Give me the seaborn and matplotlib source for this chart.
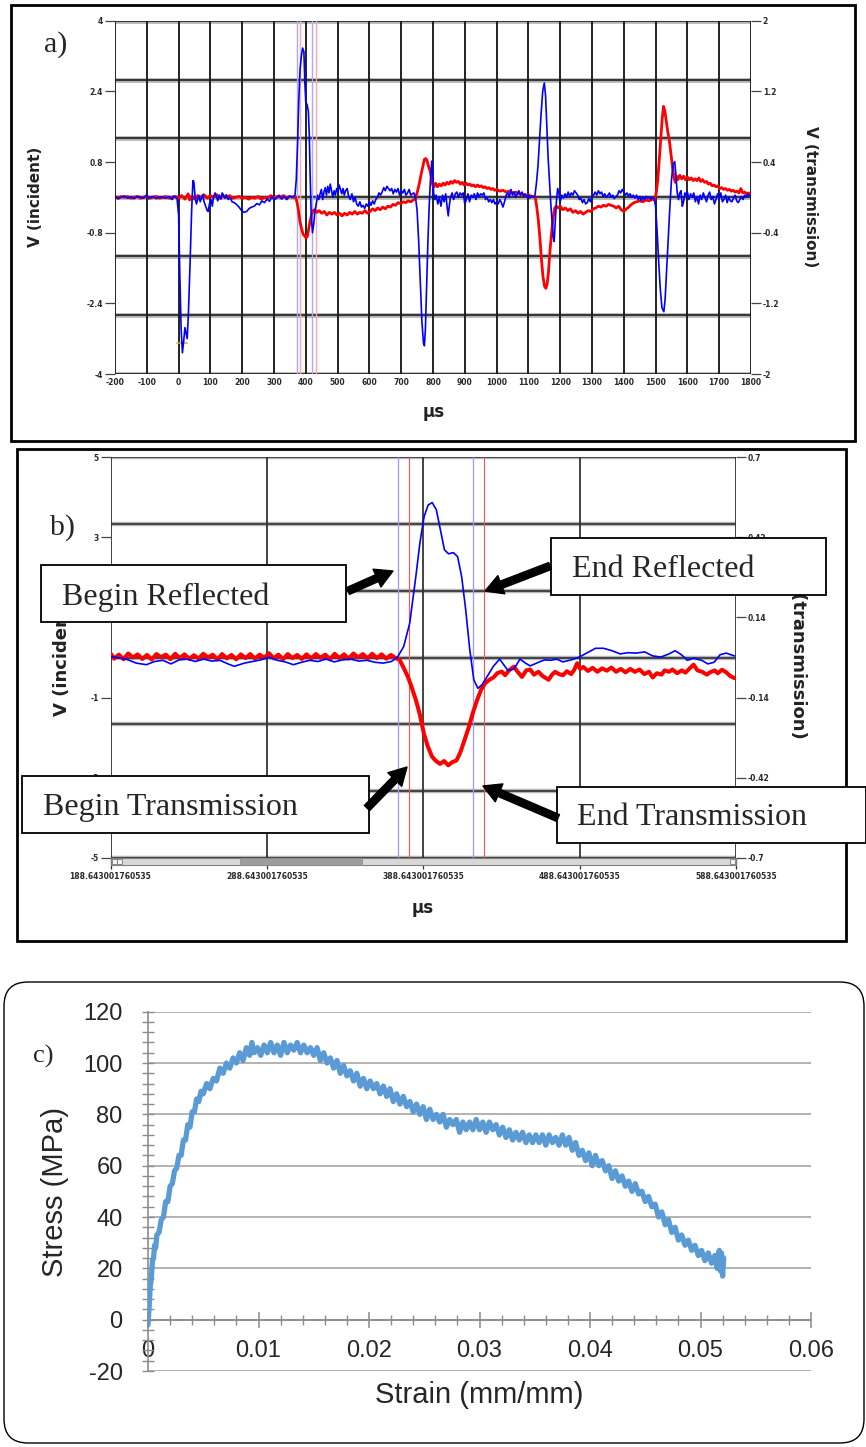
import numpy as np
import matplotlib
matplotlib.use("Agg")
import matplotlib.pyplot as plt
import seaborn as sns
from matplotlib.patches import Rectangle, FancyBboxPatch, FancyArrowPatch
from matplotlib.transforms import IdentityTransform

# ---------------- a) full record: incident bar (V) and transmission bar (V) ----------------
a_incident = [
    (-200, 0.02), (-190, -0.03), (-180, 0.0), (-170, 0.03), (-160, -0.02), (-150, 0.01), (-140, -0.03),
    (-130, 0.02), (-120, 0.0), (-110, -0.02), (-100, 0.06), (-95, -0.03), (-90, 0.0), (-80, 0.02),
    (-70, -0.03), (-60, 0.01), (-50, 0.0), (-40, -0.02), (-30, 0.02), (-20, -0.05), (-15, 0.03),
    (-10, 0.0), (-5, -0.02),
    (0, -0.4), (4, -1.8), (8, -3.0), (12, -3.52), (16, -3.25), (20, -2.95), (24, -3.1), (27, -3.2),
    (31, -2.6), (36, -1.5), (41, -0.3), (45, 0.38), (48, 0.35), (52, 0.0), (56, -0.15), (60, -0.05),
    (64, 0.04), (68, -0.1), (72, -0.02), (76, 0.06), (80, -0.1), (85, -0.2), (90, -0.3), (93, -0.32),
    (97, -0.15), (102, -0.05), (106, -0.2), (110, 0.02), (115, 0.1), (119, 0.02), (123, -0.08),
    (128, 0.05), (133, -0.04), (137, 0.1), (142, 0.04), (146, -0.02), (150, 0.06), (156, -0.05),
    (162, 0.0), (168, -0.1), (175, -0.12), (182, -0.16), (190, -0.22), (198, -0.3), (206, -0.34),
    (214, -0.32), (222, -0.25), (230, -0.22), (238, -0.2), (246, -0.14), (254, -0.17), (262, -0.08),
    (270, -0.12), (278, -0.04), (286, -0.09), (294, 0.02), (300, -0.06), (308, -0.02), (316, 0.05),
    (324, -0.04), (332, 0.02), (340, -0.05), (348, 0.03), (356, 0.0), (362, 0.02), (366, 0.05),
    (370, 0.4), (374, 1.2), (378, 2.2), (382, 2.9), (386, 3.2), (390, 3.38), (394, 3.3), (397, 2.6),
    (400, 2.15), (404, 2.1), (408, 1.95), (411, 1.4), (414, 0.4), (417, -0.4), (421, -0.8),
    (425, -0.6), (429, -0.3), (433, -0.15), (437, 0.05), (441, -0.05), (445, 0.08), (449, 0.18),
    (453, -0.05), (457, 0.12), (461, 0.22), (465, 0.05), (469, 0.25), (473, 0.1), (477, 0.3),
    (481, 0.15), (485, 0.0), (489, 0.15), (493, 0.05), (497, 0.2), (501, 0.12), (505, 0.28),
    (509, 0.18), (513, 0.08), (517, 0.2), (521, 0.05), (525, 0.15), (530, 0.2), (535, 0.02),
    (540, -0.05), (545, 0.08), (550, -0.1), (555, 0.0), (560, -0.15), (565, -0.2), (570, -0.1),
    (575, -0.22), (580, -0.18), (585, -0.25), (590, -0.15), (595, -0.2), (600, -0.1), (605, -0.18),
    (610, -0.08), (615, -0.15), (620, -0.05), (625, 0.0), (630, 0.1), (635, 0.05), (640, 0.12),
    (645, 0.22), (650, 0.15), (655, 0.25), (660, 0.2), (665, 0.15), (670, 0.2), (675, 0.08),
    (680, 0.18), (685, 0.12), (690, 0.2), (695, 0.05), (700, 0.15), (705, 0.1), (710, 0.18),
    (715, 0.05), (720, 0.1), (725, 0.18), (730, 0.05), (735, 0.08), (740, 0.1), (745, 0.0),
    (750, -0.3), (755, -1.0), (760, -1.9), (765, -2.8), (770, -3.3), (773, -3.36), (776, -3.0),
    (780, -2.0), (784, -1.0), (788, -0.2), (792, 0.4), (796, 0.82), (799, 0.6), (802, 0.1),
    (806, -0.05), (810, 0.05), (815, -0.15), (820, 0.0), (825, -0.2), (830, 0.05), (835, -0.1),
    (840, 0.08), (845, -0.25), (848, -0.42), (851, -0.2), (855, 0.0), (860, 0.1), (865, -0.05),
    (870, 0.08), (875, 0.12), (880, 0.0), (885, 0.1), (890, 0.05), (895, 0.1), (900, -0.15),
    (905, -0.05), (910, 0.08), (915, -0.1), (920, 0.05), (925, 0.0), (930, 0.08), (935, -0.05),
    (940, 0.1), (945, 0.02), (950, 0.08), (955, 0.05), (960, 0.1), (965, -0.05), (970, 0.0),
    (975, -0.1), (980, -0.05), (985, -0.12), (990, -0.05), (995, -0.15), (1000, -0.1), (1005, -0.15),
    (1010, -0.05), (1015, -0.12), (1020, -0.22), (1025, -0.1), (1030, 0.05), (1035, 0.1), (1040, 0.0),
    (1045, 0.18), (1050, 0.05), (1055, 0.12), (1060, 0.0), (1065, 0.08), (1070, 0.15), (1075, 0.05),
    (1080, 0.12), (1085, 0.02), (1090, 0.08), (1095, 0.0), (1100, 0.05), (1105, -0.02), (1110, 0.03),
    (1115, 0.0), (1120, 0.02),
    (1125, 0.3), (1130, 0.7), (1135, 1.3), (1140, 1.9), (1145, 2.4), (1150, 2.59), (1154, 2.3),
    (1158, 1.6), (1162, 0.9), (1166, 0.4), (1170, -0.1), (1174, -0.5), (1178, -0.9), (1181, -1.0),
    (1184, -0.6), (1188, -0.1), (1192, 0.2), (1196, 0.1), (1200, -0.1), (1205, 0.05), (1210, -0.02),
    (1215, 0.08), (1220, 0.0), (1225, 0.12), (1230, 0.02), (1235, 0.1), (1240, 0.05), (1245, 0.15),
    (1250, 0.1), (1255, 0.05), (1260, -0.05), (1265, -0.02), (1270, -0.12), (1275, -0.05),
    (1280, -0.15), (1285, -0.12), (1290, -0.03), (1295, -0.1), (1300, 0.02), (1305, 0.05),
    (1310, 0.12), (1315, 0.05), (1320, 0.15), (1325, 0.08), (1330, 0.12), (1335, 0.02), (1340, 0.08),
    (1345, 0.0), (1350, 0.05), (1355, 0.1), (1360, 0.0), (1365, 0.05), (1370, -0.03), (1375, 0.02),
    (1380, 0.05), (1385, 0.15), (1390, 0.1), (1395, 0.18), (1400, 0.12), (1405, 0.05), (1410, 0.1),
    (1415, 0.03), (1420, 0.08), (1425, 0.0), (1430, 0.05), (1435, -0.02), (1440, 0.05), (1445, -0.05),
    (1450, 0.02), (1455, -0.08), (1460, 0.0), (1465, -0.05), (1470, 0.02), (1475, -0.02), (1480, 0.0),
    (1485, -0.05), (1490, 0.0), (1495, -0.02),
    (1500, -0.2), (1505, -0.8), (1510, -1.5), (1515, -2.1), (1520, -2.5), (1526, -2.59), (1530, -2.3),
    (1535, -1.6), (1540, -0.9), (1545, -0.2), (1550, 0.4), (1555, 0.75), (1560, 0.81), (1564, 0.5),
    (1568, 0.1), (1572, -0.05), (1576, 0.1), (1580, 0.15), (1584, -0.2), (1588, -0.1), (1592, 0.1),
    (1596, 0.05), (1600, 0.12), (1605, -0.05), (1610, 0.08), (1615, 0.0), (1620, 0.1), (1625, -0.1),
    (1630, 0.02), (1635, -0.15), (1640, 0.05), (1645, -0.05), (1650, 0.1), (1655, 0.0), (1660, -0.1),
    (1665, 0.05), (1670, 0.12), (1675, -0.05), (1680, 0.02), (1685, -0.15), (1690, -0.05),
    (1695, 0.08), (1700, -0.02), (1705, 0.1), (1710, -0.1), (1715, -0.05), (1720, 0.05),
    (1725, -0.12), (1730, 0.0), (1735, -0.08), (1740, -0.1), (1745, -0.02), (1750, 0.05),
    (1755, -0.08), (1760, -0.12), (1765, -0.05), (1770, 0.02), (1775, -0.05), (1780, 0.05),
    (1785, 0.0), (1790, 0.08), (1795, 0.03), (1800, 0.05),
]

a_transmission = [
    (-200, 0.01), (-190, -0.01), (-180, 0.01), (-170, 0.0), (-160, 0.01), (-150, -0.01), (-140, 0.0),
    (-130, 0.01), (-120, -0.01), (-110, 0.0), (-100, 0.01), (-90, -0.01), (-80, 0.0), (-70, 0.01),
    (-60, -0.01), (-50, 0.0), (-40, 0.01), (-30, -0.01), (-20, 0.0), (-10, 0.01), (0, -0.01),
    (10, 0.02), (20, -0.02), (30, 0.04), (35, -0.03), (40, 0.01), (50, -0.02), (60, 0.02), (70, 0.0),
    (80, 0.03), (90, -0.01), (100, 0.02), (110, 0.0), (120, 0.03), (130, -0.01), (140, 0.01),
    (150, 0.0), (160, 0.02), (170, -0.01), (180, 0.0), (190, 0.01), (200, -0.01), (210, 0.0),
    (220, -0.02), (230, 0.0), (240, -0.01), (250, 0.01), (260, -0.02), (270, 0.0), (280, -0.01),
    (290, 0.02), (300, -0.01), (310, 0.01), (320, 0.0), (330, 0.02), (340, -0.01), (350, 0.01),
    (360, 0.0), (368, 0.0),
    (372, -0.05), (377, -0.15), (382, -0.28), (387, -0.36), (392, -0.42), (397, -0.44), (401, -0.46),
    (405, -0.44), (409, -0.36), (413, -0.28), (418, -0.2), (423, -0.15), (428, -0.14), (435, -0.17),
    (442, -0.15), (450, -0.18), (458, -0.16), (466, -0.2), (474, -0.17), (482, -0.19), (490, -0.17),
    (498, -0.2), (506, -0.18), (514, -0.21), (522, -0.18), (530, -0.2), (538, -0.17), (546, -0.19),
    (554, -0.16), (562, -0.19), (570, -0.17), (578, -0.18), (586, -0.15), (594, -0.18), (602, -0.16),
    (610, -0.13), (618, -0.15), (626, -0.12), (634, -0.14), (642, -0.11), (650, -0.13), (658, -0.1),
    (666, -0.11), (674, -0.08), (682, -0.09), (690, -0.06), (698, -0.07), (706, -0.05), (714, -0.06),
    (722, -0.04), (730, -0.05), (738, -0.03), (744, -0.02),
    (750, 0.05), (756, 0.14), (762, 0.25), (768, 0.35), (773, 0.43), (777, 0.44), (781, 0.42),
    (786, 0.35), (791, 0.3), (795, 0.22), (799, 0.14), (803, 0.12), (808, 0.16), (814, 0.12),
    (820, 0.15), (826, 0.13), (832, 0.16), (838, 0.14), (844, 0.17), (850, 0.15), (856, 0.18),
    (862, 0.16), (868, 0.19), (874, 0.17), (880, 0.18), (886, 0.15), (892, 0.17), (898, 0.14),
    (904, 0.16), (910, 0.14), (916, 0.15), (922, 0.13), (928, 0.14), (934, 0.12), (940, 0.14),
    (946, 0.12), (952, 0.13), (958, 0.11), (964, 0.12), (970, 0.1), (976, 0.11), (982, 0.09),
    (988, 0.1), (994, 0.08), (1000, 0.09), (1010, 0.07), (1020, 0.08), (1030, 0.06), (1040, 0.07),
    (1050, 0.05), (1060, 0.06), (1070, 0.04), (1080, 0.04), (1090, 0.02), (1100, 0.03), (1110, 0.01),
    (1118, 0.01), (1122, -0.01),
    (1126, -0.1), (1131, -0.25), (1136, -0.45), (1141, -0.7), (1146, -0.9), (1151, -1.01),
    (1155, -1.03), (1159, -0.98), (1163, -0.85), (1168, -0.6), (1173, -0.4), (1178, -0.22),
    (1183, -0.12), (1188, -0.1), (1194, -0.12), (1200, -0.1), (1208, -0.14), (1216, -0.12),
    (1224, -0.15), (1232, -0.13), (1240, -0.17), (1248, -0.15), (1256, -0.18), (1264, -0.16),
    (1272, -0.19), (1280, -0.17), (1288, -0.15), (1296, -0.16), (1304, -0.13), (1312, -0.12),
    (1320, -0.1), (1328, -0.11), (1336, -0.09), (1344, -0.1), (1352, -0.08), (1360, -0.09),
    (1368, -0.1), (1376, -0.12), (1384, -0.1), (1392, -0.14), (1400, -0.16), (1408, -0.13),
    (1416, -0.11), (1424, -0.08), (1432, -0.06), (1440, -0.05), (1450, -0.04), (1460, -0.05),
    (1470, -0.03), (1480, -0.04), (1490, -0.02), (1497, -0.03),
    (1502, 0.05), (1507, 0.2), (1512, 0.45), (1517, 0.7), (1521, 0.9), (1525, 1.03), (1529, 0.98),
    (1533, 0.88), (1538, 0.75), (1543, 0.65), (1548, 0.5), (1553, 0.35), (1558, 0.22), (1562, 0.17),
    (1566, 0.24), (1570, 0.2), (1576, 0.25), (1582, 0.21), (1588, 0.24), (1594, 0.2), (1600, 0.23),
    (1606, 0.2), (1612, 0.22), (1618, 0.19), (1624, 0.21), (1630, 0.19), (1636, 0.22), (1642, 0.18),
    (1648, 0.2), (1654, 0.17), (1660, 0.18), (1666, 0.15), (1672, 0.16), (1678, 0.13), (1684, 0.14),
    (1690, 0.12), (1696, 0.13), (1702, 0.1), (1708, 0.11), (1714, 0.09), (1720, 0.1), (1726, 0.08),
    (1732, 0.09), (1738, 0.07), (1744, 0.08), (1750, 0.06), (1756, 0.07), (1762, 0.05), (1768, 0.1),
    (1774, 0.05), (1780, 0.06), (1786, 0.04), (1792, 0.05), (1800, 0.03),
]

# small cursor mark near the first incident minimum
a_cursor = [(-6, -3.29), (27, -3.29)]

a_x_ticks = list(range(-200, 1801, 100))
a_left_ticks = [4, 2.4, 0.8, -0.8, -2.4, -4]
a_left_labels = ["4", "2.4", "0.8", "-0.8", "-2.4", "-4"]
a_right_ticks = [2, 1.2, 0.4, -0.4, -1.2, -2]
a_right_labels = ["2", "1.2", "0.4", "-0.4", "-1.2", "-2"]
a_window_reflected = [371, 420]
a_window_transmitted = [383, 433]

# ---------------- b) zoom on the pulse window ----------------
b_incident = [
    (189.4, 0.02), (198.6, -0.04), (205.1, -0.14), (211.6, -0.18), (216.8, -0.1), (222.1, -0.07),
    (227.3, -0.16), (232.5, -0.06), (237.7, -0.04), (242.9, -0.1), (248.2, -0.04), (253.4, -0.09),
    (258.6, -0.07), (263.8, -0.16), (267.8, -0.22), (274.3, -0.14), (279.5, -0.1), (284.7, -0.06),
    (290.0, 0.01), (295.2, -0.07), (300.4, -0.11), (305.6, -0.18), (310.8, -0.12), (316.1, -0.07),
    (321.3, -0.1), (326.5, -0.04), (331.7, -0.11), (337.0, -0.06), (342.2, -0.04), (347.4, -0.09),
    (352.6, -0.07), (357.8, -0.12), (363.1, -0.14), (368.3, -0.1), (372.2, 0.01), (376.1, 0.27),
    (380.0, 0.86), (383.9, 2.02), (386.5, 2.86), (389.2, 3.52), (391.8, 3.81), (394.4, 3.87),
    (397.0, 3.69), (399.6, 3.19), (402.2, 2.69), (404.8, 2.59), (407.9, 2.62), (410.6, 2.52),
    (413.2, 2.02), (415.8, 1.19), (418.4, 0.19), (421.0, -0.56), (423.6, -0.77), (426.2, -0.68),
    (429.6, -0.47), (433.5, -0.22), (437.5, -0.04), (440.1, -0.18), (442.7, -0.32), (446.6, -0.29),
    (450.5, -0.04), (454.0, -0.14), (457.0, -0.21), (462.3, -0.12), (466.2, -0.06), (470.1, -0.07),
    (474.0, -0.04), (477.9, -0.11), (483.2, -0.06), (488.4, 0.01), (493.6, 0.12), (498.8, 0.23),
    (504.0, 0.23), (509.3, 0.17), (514.5, 0.09), (519.7, 0.12), (524.9, 0.11), (530.2, 0.14),
    (535.4, 0.04), (540.6, 0.01), (545.8, 0.09), (549.7, 0.17), (553.7, 0.07), (557.6, -0.07),
    (561.5, -0.02), (566.7, -0.07), (570.6, -0.16), (574.6, -0.12), (578.5, 0.07), (582.4, 0.11),
    (587.6, 0.04),
]

b_transmission = [
    (189, 0.012), (191, -0.004), (194, 0.010), (197, -0.006), (200, 0.014), (203, 0.000), (206, 0.011),
    (209, -0.005), (212, 0.009), (215, -0.007), (218, 0.012), (221, 0.001), (224, 0.010), (227, -0.006),
    (230, 0.013), (233, -0.002), (236, 0.011), (239, -0.005), (242, 0.008), (245, -0.004), (248, 0.013),
    (251, 0.000), (254, 0.010), (257, -0.007), (260, 0.012), (263, -0.003), (266, 0.009), (269, -0.006),
    (272, 0.011), (275, -0.002), (278, 0.012), (281, -0.004), (284, 0.010), (287, -0.001), (290, 0.015),
    (293, -0.003), (296, 0.010), (299, -0.006), (302, 0.012), (305, -0.002), (308, 0.009), (311, -0.005),
    (314, 0.011), (317, -0.003), (320, 0.012), (323, -0.001), (326, 0.010), (329, -0.006), (332, 0.013),
    (335, -0.002), (338, 0.011), (341, -0.004), (344, 0.014), (347, 0.000), (350, 0.012), (353, -0.003),
    (356, 0.013), (359, -0.002), (362, 0.011), (365, -0.004), (368, 0.009), (371, -0.002),
    (373.5, -0.008), (376, -0.035), (378.7, -0.066), (381, -0.1), (383.9, -0.148), (386.5, -0.2),
    (389, -0.265), (391.5, -0.31), (394.2, -0.346), (396.8, -0.362), (399.4, -0.372), (402, -0.362),
    (404.6, -0.377), (407.2, -0.366), (409.9, -0.36), (412.5, -0.33), (415.1, -0.288), (417.7, -0.245),
    (420.3, -0.195), (423, -0.15), (425.6, -0.113), (428.2, -0.09), (430.9, -0.078), (433.5, -0.07),
    (436, -0.055), (438.8, -0.049), (441, -0.062), (443.5, -0.045), (446.6, -0.032), (449, -0.05),
    (451.8, -0.068), (454.5, -0.045), (457, -0.042), (459.5, -0.06), (462.3, -0.05), (465, -0.065),
    (468.8, -0.078), (471, -0.06), (473, -0.05), (475.4, -0.058), (478, -0.062), (480.5, -0.048),
    (483.2, -0.058), (485, -0.045), (487.1, -0.02), (489, -0.04), (491, -0.033), (494, -0.047),
    (497, -0.036), (500, -0.05), (503, -0.038), (506, -0.046), (509, -0.035), (512, -0.05), (515, -0.04),
    (518, -0.052), (521, -0.04), (524, -0.05), (527, -0.042), (530, -0.058), (533, -0.05), (535.4, -0.07),
    (538, -0.055), (541, -0.06), (543, -0.045), (545.8, -0.05), (548, -0.042), (551, -0.055),
    (554, -0.045), (556.3, -0.053), (559, -0.038), (561.5, -0.025), (564, -0.045), (567, -0.05),
    (570, -0.06), (572, -0.052), (575, -0.045), (577, -0.055), (579.7, -0.043), (582, -0.05),
    (585, -0.065), (587.6, -0.072),
]

b_x_ticks = [188.643001760535, 288.643001760535, 388.643001760535, 488.643001760535, 588.643001760535]
b_x_labels = ["188.643001760535", "288.643001760535", "388.643001760535",
              "488.643001760535", "588.643001760535"]
b_left_ticks = [5, 3, 1, -1, -3, -5]
b_left_labels = ["5", "3", "1", "-1", "-3", "-5"]
b_right_ticks = [0.7, 0.42, 0.14, -0.14, -0.42, -0.7]
b_right_labels = ["0.7", "0.42", "0.14", "-0.14", "-0.42", "-0.7"]
b_window_reflected = [372.2, 420.2]
b_window_transmitted = [379.4, 427.2]

# ---------------- c) stress-strain curve ----------------
c_curve = [
    (0.0000, -2), (0.0001, 5), (0.0002, 13), (0.0003, 16), (0.0004, 23), (0.0005, 24), (0.0006, 29),
    (0.0007, 28), (0.0008, 33), (0.0010, 34), (0.0012, 39), (0.0014, 40), (0.0016, 46), (0.0018, 46),
    (0.0020, 52), (0.0022, 53), (0.0024, 58), (0.0026, 59), (0.0028, 64), (0.0030, 64), (0.0032, 70),
    (0.0034, 70), (0.0036, 76), (0.0038, 75), (0.0040, 81), (0.0042, 81), (0.0044, 86), (0.0046, 85),
    (0.0048, 89), (0.0050, 88), (0.0053, 92), (0.0056, 90), (0.0059, 94), (0.0062, 93), (0.0065, 98),
    (0.0068, 96), (0.0071, 100), (0.0074, 98), (0.0077, 102), (0.0080, 100), (0.0083, 104),
    (0.0086, 101), (0.0089, 106), (0.0092, 103), (0.0094, 108), (0.0096, 104), (0.0099, 106),
    (0.0102, 103), (0.0105, 107), (0.0108, 104), (0.0111, 108), (0.0114, 104), (0.0117, 107),
    (0.0120, 103), (0.0123, 108), (0.0126, 104), (0.0129, 107), (0.0132, 105), (0.0135, 108),
    (0.0138, 104), (0.0141, 107), (0.0144, 104), (0.0147, 106), (0.0150, 103), (0.0153, 106),
    (0.0156, 101), (0.0159, 104), (0.0162, 100), (0.0165, 102), (0.0168, 98), (0.0171, 101),
    (0.0174, 96), (0.0177, 99), (0.0180, 95), (0.0183, 97), (0.0186, 93), (0.0189, 96), (0.0192, 91),
    (0.0195, 94), (0.0198, 90), (0.0201, 93), (0.0204, 90), (0.0207, 92), (0.0210, 88), (0.0213, 91),
    (0.0216, 87), (0.0219, 90), (0.0222, 85), (0.0225, 88), (0.0228, 84), (0.0231, 87), (0.0234, 83),
    (0.0237, 85), (0.0240, 81), (0.0243, 84), (0.0246, 80), (0.0249, 83), (0.0252, 78), (0.0255, 82),
    (0.0258, 78), (0.0261, 80), (0.0264, 77), (0.0267, 80), (0.0270, 75), (0.0273, 78), (0.0276, 76),
    (0.0279, 78), (0.0282, 73), (0.0285, 77), (0.0288, 74), (0.0291, 77), (0.0294, 74), (0.0297, 78),
    (0.0300, 74), (0.0303, 77), (0.0306, 73), (0.0309, 77), (0.0312, 74), (0.0315, 76), (0.0318, 72),
    (0.0321, 75), (0.0324, 71), (0.0327, 74), (0.0330, 70), (0.0333, 73), (0.0336, 70), (0.0339, 73),
    (0.0342, 69), (0.0345, 72), (0.0348, 69), (0.0351, 72), (0.0354, 69), (0.0357, 72), (0.0360, 68),
    (0.0363, 72), (0.0366, 69), (0.0369, 71), (0.0372, 68), (0.0375, 72), (0.0378, 68), (0.0381, 71),
    (0.0384, 66), (0.0387, 69), (0.0390, 64), (0.0393, 66), (0.0396, 62), (0.0399, 65), (0.0402, 60),
    (0.0405, 64), (0.0408, 60), (0.0411, 62), (0.0414, 58), (0.0417, 60), (0.0420, 55), (0.0423, 58),
    (0.0426, 54), (0.0429, 56), (0.0432, 52), (0.0435, 54), (0.0438, 50), (0.0441, 53), (0.0444, 49),
    (0.0447, 50), (0.0450, 46), (0.0453, 48), (0.0456, 44), (0.0459, 45), (0.0462, 40), (0.0465, 42),
    (0.0468, 37), (0.0471, 39), (0.0474, 34), (0.0477, 36), (0.0480, 31), (0.0483, 33), (0.0486, 29),
    (0.0489, 31), (0.0492, 27), (0.0495, 29), (0.0498, 25), (0.0501, 27), (0.0504, 23), (0.0507, 26),
    (0.0510, 22), (0.0513, 25), (0.0515, 20), (0.0517, 27), (0.0518, 19), (0.0519, 26), (0.0520, 17),
    (0.0521, 24),
]
c_x_ticks = [0, 0.01, 0.02, 0.03, 0.04, 0.05, 0.06]
c_x_labels = ["0", "0.01", "0.02", "0.03", "0.04", "0.05", "0.06"]
c_y_ticks = [-20, 0, 20, 40, 60, 80, 100, 120]
c_y_labels = ["-20", "0", "20", "40", "60", "80", "100", "120"]

# ---------------- figure ----------------
sns.set_style("white")
plt.rcParams["font.family"] = ["DejaVu Sans"]
plt.rcParams["axes.unicode_minus"] = False

W, H = 866, 1447
fig = plt.figure(figsize=(W / 100, H / 100), dpi=100)
PIX = IdentityTransform()


def ax_rect(x0, y0, x1, y1):
    return [x0 / W, 1 - y1 / H, (x1 - x0) / W, (y1 - y0) / H]


def fxy(x, y):
    return x / W, 1 - y / H


def frame(x0, y0, x1, y1, lw=2.0):
    fig.add_artist(Rectangle((x0, H - y1), x1 - x0, y1 - y0, transform=PIX,
                             fill=False, ec="black", lw=lw, zorder=2))


def split(pairs):
    arr = np.array(pairs, dtype=float)
    return arr[:, 0], arr[:, 1]


def trace(ax, pairs, color, lw, z):
    x, y = split(pairs)
    sns.lineplot(x=x, y=y, ax=ax, color=color, linewidth=lw, sort=False,
                 estimator=None, zorder=z)


def bold_ticklabels(ax, size, color="#2a2a2a"):
    for lbl in ax.get_xticklabels() + ax.get_yticklabels():
        lbl.set_fontweight("bold")
        lbl.set_fontsize(size)
        lbl.set_color(color)


# ---- panel a ----
frame(11, 5, 855, 441)
ax_a = fig.add_axes(ax_rect(115, 20.7, 751, 374))
ax_ar = ax_a.twinx()
ax_ar.set_zorder(1)
ax_a.set_zorder(2)
ax_a.patch.set_visible(False)
ax_a.set_xlim(-200, 1800)
ax_a.set_ylim(-4, 4)
ax_ar.set_ylim(-2, 2)

for x in a_x_ticks:
    ax_ar.axvline(x, color="#111111", lw=1.3, zorder=1)
for y in np.linspace(-2, 2, 7):
    ax_ar.axhline(y, color="#b4b4b4", lw=3.4, zorder=0.8)
    ax_ar.axhline(y, color="#1e1e1e", lw=1.2, zorder=1)
for x in a_window_reflected:
    ax_ar.axvline(x, color="#a8a8ff", lw=1.0, zorder=1.5)
for x in a_window_transmitted:
    ax_ar.axvline(x, color="#ffa8a8", lw=1.0, zorder=1.5)

trace(ax_ar, a_transmission, "#ff0000", 2.0, 3)
trace(ax_a, a_incident, "#0000ff", 1.2, 4)
cx, cy = split(a_cursor)
ax_a.plot(cx, cy, color="#f0a030", lw=1.2, zorder=3)

ax_a.set_xticks(a_x_ticks)
ax_a.set_xticklabels([str(v) for v in a_x_ticks])
ax_a.set_yticks(a_left_ticks)
ax_a.set_yticklabels(a_left_labels)
ax_ar.set_yticks(a_right_ticks)
ax_ar.set_yticklabels(a_right_labels)
ax_a.tick_params(axis="x", bottom=True, length=0, pad=3)
ax_a.tick_params(axis="y", left=True, length=7, width=0.9, color="#444444", pad=1.5)
ax_ar.tick_params(axis="y", right=True, length=7, width=0.9, color="#444444", pad=1.5)
for a in (ax_a, ax_ar):
    a.set_xlabel("")
    a.set_ylabel("")
    for s in a.spines.values():
        s.set_visible(False)
    bold_ticklabels(a, 5.5)

fig.text(*fxy(56, 45), "a)", family="Liberation Serif", fontsize=21.5, ha="center", va="center")
fig.text(*fxy(36, 197), "V (incident)", rotation=90, fontsize=11, fontweight="bold",
         ha="center", va="center", color="#222222")
fig.text(*fxy(811, 197), "V (transmission)", rotation=-90, fontsize=11, fontweight="bold",
         ha="center", va="center", color="#222222")
fig.text(*fxy(434, 412), "µs", fontsize=12, fontweight="bold", ha="center", va="center",
         color="#222222")

# ---- panel b ----
frame(17, 449, 846, 941)
ax_b = fig.add_axes(ax_rect(110.5, 457.3, 736, 857.7))
ax_br = ax_b.twinx()
ax_br.set_zorder(1)
ax_b.set_zorder(2)
ax_b.patch.set_visible(False)
ax_b.set_xlim(b_x_ticks[0], b_x_ticks[-1])
ax_b.set_ylim(-5, 5)
ax_br.set_ylim(-0.7, 0.7)

for x in b_x_ticks:
    ax_br.axvline(x, color="#111111", lw=1.1, zorder=1)
for y in np.linspace(-0.7, 0.7, 7):
    ax_br.axhline(y, color="#b8b8b8", lw=3.2, zorder=0.8)
    ax_br.axhline(y, color="#3a3a3a", lw=1.3, zorder=1)
for x in b_window_reflected:
    ax_br.axvline(x, color="#9a9aff", lw=0.9, zorder=1.5)
for x in b_window_transmitted:
    ax_br.axvline(x, color="#ff5050", lw=0.8, zorder=1.5)

trace(ax_br, b_transmission, "#ff0000", 2.9, 3)
trace(ax_b, b_incident, "#0000ff", 1.2, 4)

ax_b.set_xticks(b_x_ticks)
ax_b.set_xticklabels(b_x_labels)
ax_b.set_yticks(b_left_ticks)
ax_b.set_yticklabels(b_left_labels)
ax_br.set_yticks(b_right_ticks)
ax_br.set_yticklabels(b_right_labels)
ax_b.tick_params(axis="x", bottom=True, length=8, width=0.9, color="#333333", pad=2)
ax_b.tick_params(axis="y", left=True, length=7, width=0.9, color="#444444", pad=1.5)
ax_br.tick_params(axis="y", right=True, length=7, width=0.9, color="#444444", pad=1.5)
for a in (ax_b, ax_br):
    a.set_xlabel("")
    a.set_ylabel("")
    for s in a.spines.values():
        s.set_visible(False)
    bold_ticklabels(a, 5.5)

# scroll bar under the zoomed trace
hb = 7 / 400.4
ax_b.add_patch(Rectangle((0, -hb), 1, hb, transform=ax_b.transAxes, clip_on=False,
                         fc="#d8d8d8", ec="#808080", lw=0.8, zorder=5))
ax_b.add_patch(Rectangle((0.207, -hb), 0.195, hb, transform=ax_b.transAxes, clip_on=False,
                         fc="#9e9e9e", ec="#8a8a8a", lw=0.5, zorder=6))
for x0 in (0.002, 0.011, 0.99):
    ax_b.add_patch(Rectangle((x0, -hb * 0.85), 0.008, hb * 0.7, transform=ax_b.transAxes,
                             clip_on=False, fc="#f2f2f2", ec="#666666", lw=0.5, zorder=6))

fig.text(*fxy(62, 528), "b)", family="Liberation Serif", fontsize=21.5, ha="center", va="center")
fig.text(*fxy(62, 657), "V (incident)", rotation=90, fontsize=13, fontweight="bold",
         ha="center", va="center", color="#222222", zorder=3)
fig.text(*fxy(798, 655), "V (transmission)", rotation=-90, fontsize=13, fontweight="bold",
         ha="center", va="center", color="#222222", zorder=3)
fig.text(*fxy(423, 908), "µs", fontsize=12, fontweight="bold", ha="center", va="center",
         color="#222222")

callouts = [
    ("Begin Reflected", (41, 565, 346, 622), (62, 605), (348, 591), (393, 571)),
    ("End Reflected", (551, 538, 826, 595), (572, 577), (550, 566), (485, 591)),
    ("Begin Transmission", (22, 776, 369, 833), (43, 815), (367, 808), (407, 767)),
    ("End Transmission", (557, 787, 866, 843), (577, 825), (558, 818), (483, 786)),
]
for text, (x0, y0, x1, y1), (tx, ty), tail, head in callouts:
    fig.add_artist(Rectangle((x0, H - y1), x1 - x0, y1 - y0, transform=PIX, fc="white",
                             ec="black", lw=1.3, zorder=5))
    fig.text(*fxy(tx, ty), text, family="Liberation Serif", fontsize=23, ha="left",
             va="baseline", zorder=6)
    fig.add_artist(FancyArrowPatch((tail[0], H - tail[1]), (head[0], H - head[1]),
                                   transform=PIX, arrowstyle="simple,head_length=0.9,head_width=1.0,tail_width=0.38",
                                   mutation_scale=14, color="black", shrinkA=0, shrinkB=0, zorder=6))

# ---- panel c ----
fig.add_artist(FancyBboxPatch((4, H - 1443), 860, 1443 - 982, transform=PIX,
                              boxstyle="round,pad=0,rounding_size=24", fill=False,
                              ec="black", lw=1.0, zorder=2))
ax_c = fig.add_axes(ax_rect(148, 1011.7, 811, 1371))
ax_c.set_xlim(0, 0.06)
ax_c.set_ylim(-20, 120)
for y in c_y_ticks:
    ax_c.axhline(y, color="#a6a6a6", lw=1.2, zorder=0.5)
trace(ax_c, c_curve, "#5b9bd5", 3.8, 3)
ax_c.set_xlabel("")
ax_c.set_ylabel("")
ax_c.spines["top"].set_visible(False)
ax_c.spines["right"].set_visible(False)
ax_c.spines["bottom"].set_position(("data", 0))
for side in ("left", "bottom"):
    ax_c.spines[side].set_color("#8c8c8c")
    ax_c.spines[side].set_linewidth(1.2)
ax_c.set_xticks(c_x_ticks)
ax_c.set_xticklabels(c_x_labels)
ax_c.set_xticks([i * 0.002 for i in range(31)], minor=True)
ax_c.set_yticks(c_y_ticks)
ax_c.set_yticklabels(c_y_labels)
ax_c.set_yticks(list(range(-20, 121, 4)), minor=True)
ax_c.tick_params(axis="x", which="major", bottom=True, direction="inout", length=12, width=1.1,
                 color="#8c8c8c", pad=8.5, labelsize=17)
ax_c.tick_params(axis="x", which="minor", bottom=True, direction="inout", length=7, width=1.0,
                 color="#8c8c8c")
ax_c.tick_params(axis="y", which="both", left=True, direction="inout", length=8.5, width=1.0,
                 color="#8c8c8c", pad=14, labelsize=17)
for lbl in ax_c.get_xticklabels() + ax_c.get_yticklabels():
    lbl.set_family("Liberation Sans")

fig.text(*fxy(43, 1056), "c)", family="Liberation Serif", fontsize=19, ha="center", va="center")
fig.text(*fxy(55, 1192), "Stress (MPa)", rotation=90, family="Liberation Sans", fontsize=21,
         ha="center", va="center")
fig.text(*fxy(479, 1395), "Strain (mm/mm)", family="Liberation Sans", fontsize=21,
         ha="center", va="center")

fig.savefig("out.png", dpi=100)
